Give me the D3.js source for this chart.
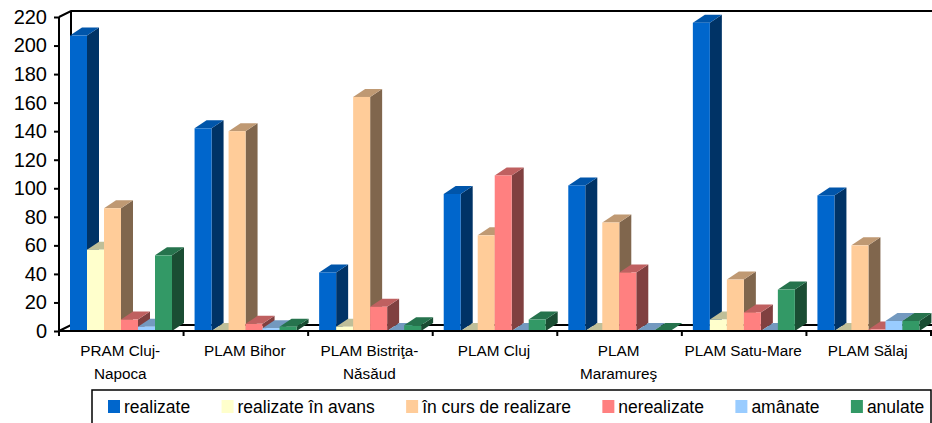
<!DOCTYPE html>
<html>
<head>
<meta charset="utf-8">
<script src="https://cdn.jsdelivr.net/npm/d3@7"></script>
<style>
  html, body { margin: 0; padding: 0; background: #fff; overflow: hidden; }
  text { font-family: "Liberation Sans", Arial, sans-serif; fill: #000; }
  .domain { display: none; }
</style>
</head>
<body>
<svg id="chart" width="932" height="423"></svg>
<script>
/*** Data ***/
const categories = ["PRAM Cluj-|Napoca", "PLAM Bihor", "PLAM Bistriţa-|Năsăud", "PLAM Cluj", "PLAM|Maramureş", "PLAM Satu-Mare", "PLAM Sălaj"];
const seriesNames = ["realizate", "realizate în avans", "în curs de realizare", "nerealizate", "amânate", "anulate"];
const realizate = [207, 142, 41, 96, 102, 216, 95];
const realizateAvans = [57, 0, 3, 0, 0, 8, 0];
const inCurs = [86, 140, 164, 67, 76, 36, 60];
const nerealizate = [8, 5, 17, 109, 41, 13, 1];
const amanate = [3, 2, 0, 0, 0, 0, 7];
const anulate = [53, 3, 4, 8, 0, 29, 7];
const yTicks = d3.range(0, 221, 20);
const seriesValues = [realizate, realizateAvans, inCurs, nerealizate, amanate, anulate];

// front, side, top shades per series
const colors = [
  {front: "#0066cc", side: "#003366", top: "#0055aa"},
  {front: "#ffffcc", side: "#808066", top: "#bfbf99"},
  {front: "#ffcc99", side: "#80664d", top: "#bf9973"},
  {front: "#ff8080", side: "#804040", top: "#bf6060"},
  {front: "#99ccff", side: "#4d6680", top: "#7399bf"},
  {front: "#339966", side: "#1a4d33", top: "#26734d"}
];

/*** Layout ***/
const plot = {left: 59, right: 931, top: 17, bottom: 331};
const wall = {dx: 12, dy: 6};    // depth of the chart box
const depth = {dx: 12, dy: 8};   // depth of a bar

const svg = d3.select("#chart");
const x = d3.scaleBand().domain(d3.range(categories.length)).range([plot.left, plot.right]);
const xInner = d3.scaleBand().domain(d3.range(seriesNames.length)).range([11, 113]);
const y = d3.scaleLinear().domain([0, 220]).range([plot.bottom, plot.top]);

/*** Chart box lines behind the bars ***/
const backLine = d3.line();
const back = svg.append("g").attr("fill", "none").attr("stroke", "#000").attr("stroke-width", 2);
back.append("path").attr("d", backLine([
  [plot.left, plot.top],
  [plot.left + wall.dx, plot.top - wall.dy],
  [plot.right + 1, plot.top - wall.dy]
]));
back.append("path").attr("d", backLine([
  [plot.left + wall.dx, plot.top - wall.dy],
  [plot.left + wall.dx, plot.bottom - wall.dy]
]));
back.append("path").attr("d", backLine([
  [plot.left, plot.bottom],
  [plot.left + wall.dx, plot.bottom - wall.dy],
  [plot.right + 1, plot.bottom - wall.dy]
]));

/*** Bars, painted left to right so each one covers the side of the last ***/
const points = arr => arr.map(p => p.join(",")).join(" ");
categories.forEach(function(cat, c) {
  const group = svg.append("g").attr("transform", "translate(" + x(c) + ",0)");
  seriesValues.forEach(function(values, s) {
    const x0 = xInner(s);
    const x1 = x0 + xInner.bandwidth();
    const yTop = y(values[c]);
    const yBase = y(0);
    group.append("polygon")
        .attr("fill", colors[s].side)
        .attr("points", points([
          [x1, yTop], [x1 + depth.dx, yTop - depth.dy],
          [x1 + depth.dx, yBase - depth.dy], [x1, yBase]
        ]));
    group.append("polygon")
        .attr("fill", colors[s].top)
        .attr("points", points([
          [x0, yTop], [x0 + depth.dx, yTop - depth.dy],
          [x1 + depth.dx, yTop - depth.dy], [x1, yTop]
        ]));
    group.append("rect")
        .attr("fill", colors[s].front)
        .attr("x", x0)
        .attr("y", yTop)
        .attr("width", xInner.bandwidth())
        .attr("height", yBase - yTop);
  });
});

/*** Axes ***/
const yAxis = svg.append("g")
    .attr("transform", "translate(" + plot.left + ",0)")
    .call(d3.axisLeft(y).tickValues(yTicks).tickSize(5).tickPadding(7));
yAxis.selectAll("line").attr("stroke", "#000").attr("stroke-width", 2);
yAxis.selectAll("text").style("font-size", "20px").attr("fill", "#000");

const front = svg.append("g").attr("stroke", "#000").attr("stroke-width", 2);
front.append("line")
    .attr("x1", plot.left).attr("x2", plot.left)
    .attr("y1", plot.top).attr("y2", plot.bottom + 5);
front.append("line")
    .attr("x1", plot.left).attr("x2", plot.right + 1)
    .attr("y1", plot.bottom).attr("y2", plot.bottom);
// Category ticks sit on the band edges
d3.range(categories.length + 1).forEach(function(i) {
  const tx = plot.left + i * x.step();
  front.append("line")
      .attr("x1", tx).attr("x2", tx)
      .attr("y1", plot.bottom).attr("y2", plot.bottom + 5);
});

// Category labels, split by hand on | like the original
const labels = svg.append("g").attr("text-anchor", "middle").style("font-size", "15.3px");
categories.forEach(function(cat, c) {
  cat.split("|").forEach(function(line, i) {
    labels.append("text")
        .attr("x", x(c) + x.bandwidth() / 2 - 1)
        .attr("y", 356 + i * 22.5)
        .text(line);
  });
});

/*** Legend ***/
const legendBox = {left: 92, top: 390, right: 931, bottom: 430};
svg.append("rect")
    .attr("x", legendBox.left)
    .attr("y", legendBox.top)
    .attr("width", legendBox.right - legendBox.left)
    .attr("height", legendBox.bottom - legendBox.top)
    .attr("fill", "#fff")
    .attr("stroke", "#000")
    .attr("stroke-width", 1.5);
let legendX = 108;
seriesNames.forEach(function(name, s) {
  svg.append("rect")
      .attr("x", legendX)
      .attr("y", 400)
      .attr("width", 12)
      .attr("height", 13)
      .attr("fill", colors[s].front);
  const label = svg.append("text")
      .attr("x", legendX + 16)
      .attr("y", 413)
      .style("font-size", "17.5px")
      .text(name);
  legendX += 16 + label.node().getComputedTextLength() + 31.4;
});
</script>
</body>
</html>
